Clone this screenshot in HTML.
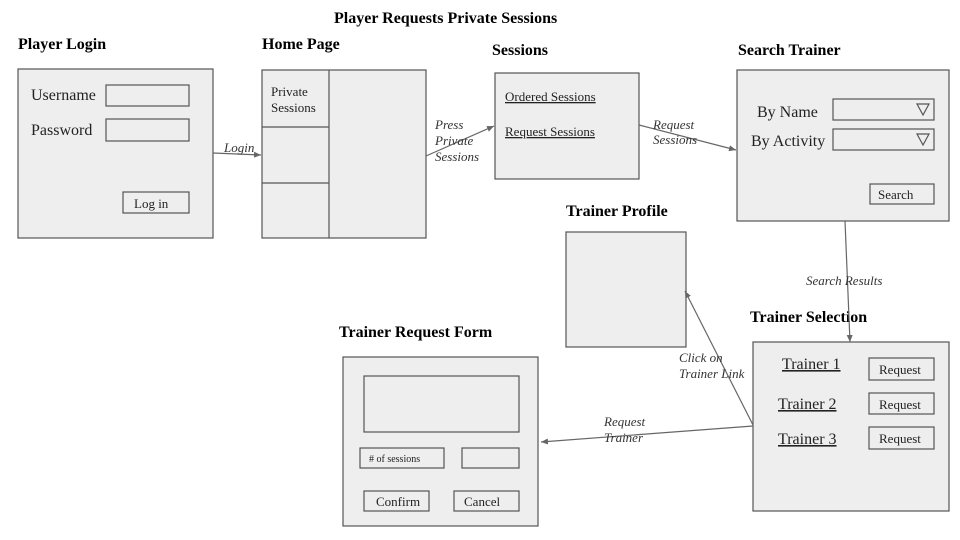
<!DOCTYPE html>
<html><head><style>body{margin:0;background:#fff}svg{display:block}</style></head><body>
<svg width="960" height="540" xmlns="http://www.w3.org/2000/svg" font-family="Liberation Serif, serif">
<defs><marker id="a" markerWidth="8" markerHeight="8" refX="7" refY="4" orient="auto" markerUnits="userSpaceOnUse"><path d="M0,1 L7,4 L0,7z" fill="#666"/></marker></defs>
<g font-weight="bold" font-size="16" fill="#000">
<text x="334" y="23">Player  Requests Private Sessions</text>
<text x="18" y="49">Player Login</text>
<text x="262" y="49">Home Page</text>
<text x="492" y="55">Sessions</text>
<text x="738" y="55">Search Trainer</text>
<text x="566" y="216">Trainer  Profile</text>
<text x="750" y="322">Trainer  Selection</text>
<text x="339" y="337">Trainer  Request Form</text>
</g>
<g fill="#eeeeee" stroke="#555" stroke-width="1.2">
<rect x="18" y="69" width="195" height="169"/>
<rect x="262" y="70" width="164" height="168"/>
<rect x="495" y="73" width="144" height="106"/>
<rect x="737" y="70" width="212" height="151"/>
<rect x="566" y="232" width="120" height="115"/>
<rect x="753" y="342" width="196" height="169"/>
<rect x="343" y="357" width="195" height="169"/>
<rect x="106" y="85" width="83" height="21"/>
<rect x="106" y="119" width="83" height="22"/>
<rect x="123" y="192" width="66" height="21"/>
<rect x="833" y="99" width="101" height="21"/>
<rect x="833" y="129" width="101" height="21"/>
<rect x="870" y="184" width="64" height="20"/>
<rect x="869" y="358" width="65" height="22"/>
<rect x="869" y="393" width="65" height="21"/>
<rect x="869" y="427" width="65" height="22"/>
<rect x="364" y="376" width="155" height="56"/>
<rect x="360" y="448" width="84" height="20"/>
<rect x="462" y="448" width="57" height="20"/>
<rect x="364" y="491" width="65" height="20"/>
<rect x="454" y="491" width="65" height="20"/>
</g>
<g stroke="#555" stroke-width="1.2" fill="none">
<line x1="329" y1="70" x2="329" y2="238"/>
<line x1="262" y1="127" x2="329" y2="127"/>
<line x1="262" y1="183" x2="329" y2="183"/>
<path d="M917,104 L929,104 L923,115z"/>
<path d="M917,134 L929,134 L923,145z"/>
</g>
<g stroke="#666" stroke-width="1.2" marker-end="url(#a)">
<line x1="213" y1="153" x2="261" y2="155"/>
<line x1="426" y1="156" x2="494" y2="126"/>
<line x1="639" y1="125" x2="736" y2="150"/>
<line x1="845" y1="221" x2="850" y2="342"/>
<line x1="753" y1="425" x2="685" y2="291"/>
<line x1="753" y1="426" x2="541" y2="442"/>
</g>
<g font-size="16" fill="#222">
<text x="31" y="100">Username</text>
<text x="31" y="135">Password</text>
<text x="757" y="117">By Name</text>
<text x="751" y="146">By Activity</text>
</g>
<g font-size="13" fill="#222">
<text x="134" y="208">Log in</text>
<text x="271" y="96">Private</text>
<text x="271" y="112">Sessions</text>
<text x="505" y="101" text-decoration="underline">Ordered Sessions</text>
<text x="505" y="136" text-decoration="underline">Request Sessions</text>
<text x="878" y="199">Search</text>
<text x="879" y="374">Request</text>
<text x="879" y="409">Request</text>
<text x="879" y="443">Request</text>
<text x="376" y="506">Confirm</text>
<text x="464" y="506">Cancel</text>
</g>
<text x="369" y="462" font-size="10" fill="#222">#  of sessions</text>
<g font-size="16" fill="#222" text-decoration="underline">
<text x="782" y="369">Trainer 1</text>
<text x="778" y="409">Trainer 2</text>
<text x="778" y="444">Trainer 3</text>
</g>
<g font-size="13" font-style="italic" fill="#333">
<text x="224" y="152">Login</text>
<text x="435" y="129">Press</text>
<text x="435" y="145">Private</text>
<text x="435" y="161">Sessions</text>
<text x="653" y="129">Request</text>
<text x="653" y="144">Sessions</text>
<text x="806" y="285">Search Results</text>
<text x="679" y="362">Click on</text>
<text x="679" y="378">Trainer Link</text>
<text x="604" y="426">Request</text>
<text x="604" y="442">Trainer</text>
</g>
</svg>
</body></html>
